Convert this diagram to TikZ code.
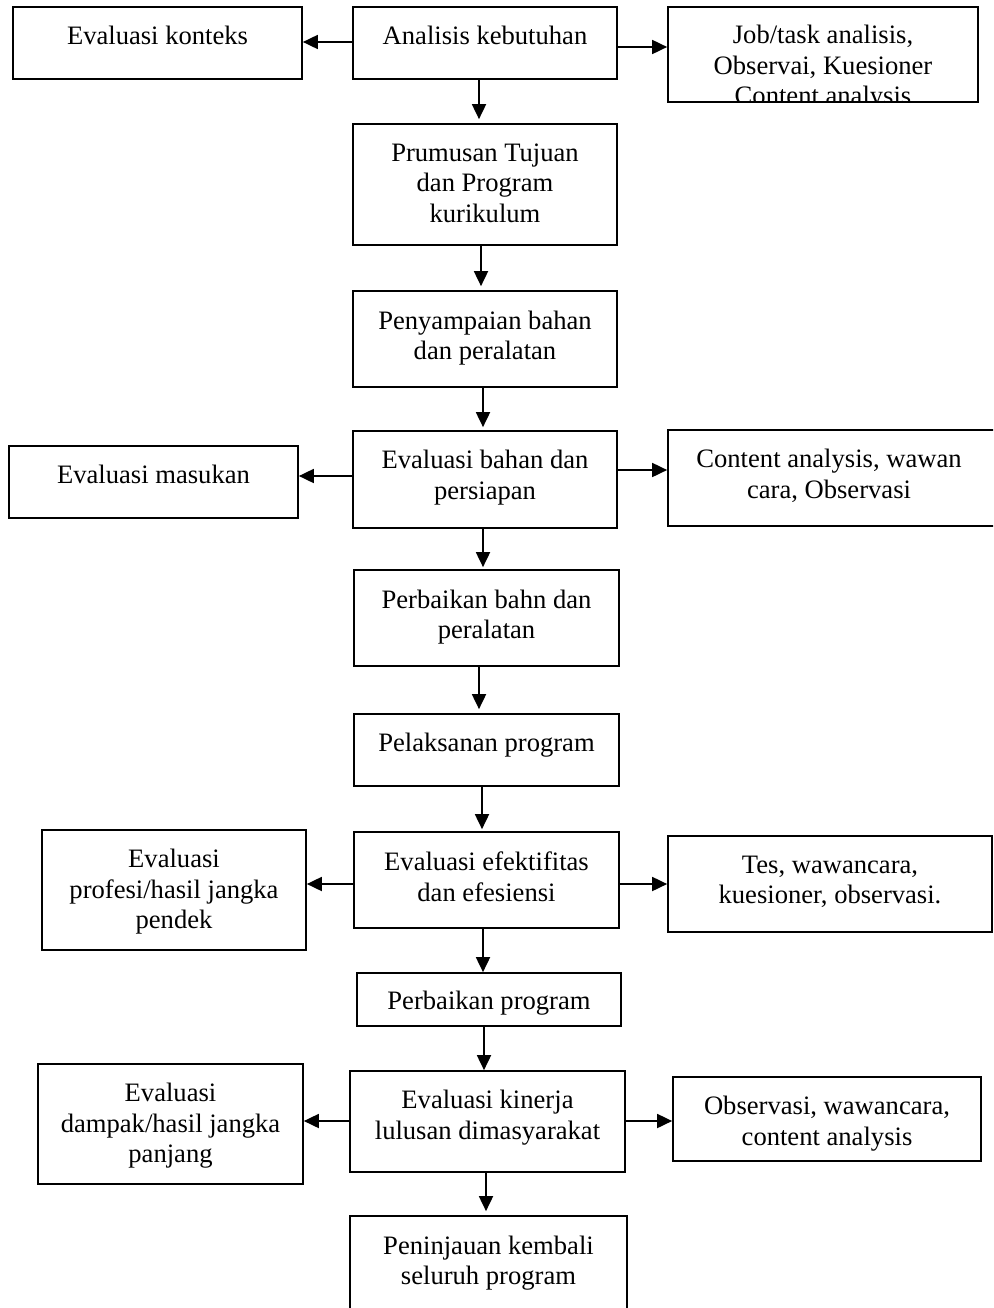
\documentclass[tikz,border=0pt]{standalone}
\usepackage{fontspec}
\setmainfont{Liberation Serif}
\usetikzlibrary{arrows.meta}
\tikzset{
  box/.style={draw, line width=1.7pt, rectangle, inner sep=0pt, fill=none},
  txt/.style={anchor=north, inner sep=0pt, align=center,
    font=\fontsize{26.6}{30.5}\selectfont},
  arr/.style={line width=1.8pt, -{Triangle[length=15pt,width=14pt]}}
}
\begin{document}
\begin{tikzpicture}[x=1pt,y=-1pt]
\clip (0,0) rectangle (993,1308);
\fill[white] (0,0) rectangle (993,1308);
% boxes
\node[box, minimum width=289, minimum height=72] (ctx) at (157.5,43) {};
\node[box, minimum width=264, minimum height=72] (ana) at (485,43) {};
\node[box, minimum width=310, minimum height=95] (job) at (823,54.5) {};
\node[box, minimum width=264, minimum height=121] (pru) at (485,184.5) {};
\node[box, minimum width=264, minimum height=96] (pen) at (485,339) {};
\node[box, minimum width=264, minimum height=97] (evb) at (485,479.5) {};
\node[box, minimum width=289, minimum height=72] (mas) at (153.5,482) {};
\node[box, minimum width=334, minimum height=96] (con) at (835,478) {};
\node[box, minimum width=265, minimum height=96] (pbb) at (486.5,618) {};
\node[box, minimum width=265, minimum height=72] (pel) at (486.5,750) {};
\node[box, minimum width=265, minimum height=96] (efk) at (486.5,880) {};
\node[box, minimum width=264, minimum height=120] (pro) at (174,890) {};
\node[box, minimum width=324, minimum height=96] (tes) at (830,884) {};
\node[box, minimum width=264, minimum height=53] (pbp) at (489,999.5) {};
\node[box, minimum width=275, minimum height=101] (kin) at (487.5,1121.5) {};
\node[box, minimum width=265, minimum height=120] (dam) at (170.5,1124) {};
\node[box, minimum width=308, minimum height=84] (obs) at (827,1119) {};
\node[box, minimum width=277, minimum height=130] (pnj) at (488.5,1281) {};
% texts
\node[txt] (tctx) at ([yshift=-19.5pt]ctx.north) {Evaluasi konteks};
\node[txt] (tana) at ([yshift=-19.5pt]ana.north) {Analisis kebutuhan};
\begin{scope}
\clip ([shift={(1.5pt,-1.5pt)}]job.north west) rectangle ([shift={(-1.5pt,1.5pt)}]job.south east);
\node[txt] (tjob) at ([yshift=-19pt]job.north) {Job/task analisis,\\Observai, Kuesioner\\Content analysis};
\end{scope}
\node[txt] (tpru) at ([yshift=-20.5pt]pru.north) {Prumusan Tujuan\\dan Program\\kurikulum};
\node[txt] (tpen) at ([yshift=-20.5pt]pen.north) {Penyampaian bahan\\dan peralatan};
\node[txt] (tevb) at ([yshift=-20pt]evb.north) {Evaluasi bahan dan\\persiapan};
\node[txt] (tmas) at ([yshift=-19.5pt]mas.north) {Evaluasi masukan};
\node[txt] (tcon) at ([yshift=-20pt]con.north -| 829,0) {Content analysis, wawan\\cara, Observasi};
\node[txt] (tpbb) at ([yshift=-20.5pt]pbb.north) {Perbaikan bahn dan\\peralatan};
\node[txt] (tpel) at ([yshift=-19.5pt]pel.north) {Pelaksanan program};
\node[txt] (tefk) at ([yshift=-20.5pt]efk.north) {Evaluasi efektifitas\\dan efesiensi};
\node[txt] (tpro) at ([yshift=-20pt]pro.north) {Evaluasi\\profesi/hasil jangka\\pendek};
\node[txt] (ttes) at ([yshift=-20.5pt]tes.north) {Tes, wawancara,\\kuesioner, observasi.};
\node[txt] (tpbp) at ([yshift=-19pt]pbp.north) {Perbaikan program};
\node[txt] (tkin) at ([yshift=-20pt]kin.north) {Evaluasi kinerja\\lulusan dimasyarakat};
\node[txt] (tdam) at ([yshift=-20pt]dam.north) {Evaluasi\\dampak/hasil jangka\\panjang};
\node[txt] (tobs) at ([yshift=-20pt]obs.north) {Observasi, wawancara,\\content analysis};
\node[txt] (tpnj) at ([yshift=-20.5pt]pnj.north) {Peninjauan kembali\\seluruh program};
% horizontal connectors
\coordinate (a1) at ([yshift=1pt]ana.west);
\draw[arr] (a1) -- (a1 -| ctx.east);
\coordinate (a2) at ([yshift=-4pt]ana.east);
\draw[arr] (a2) -- (a2 -| job.west);
\coordinate (e1) at ([yshift=3.5pt]evb.west);
\draw[arr] (e1) -- (e1 -| mas.east);
\coordinate (e2) at ([yshift=9.5pt]evb.east);
\draw[arr] (e2) -- (e2 -| con.west);
\coordinate (f1) at ([yshift=-4pt]efk.west);
\draw[arr] (f1) -- (f1 -| pro.east);
\coordinate (f2) at ([yshift=-4pt]efk.east);
\draw[arr] (f2) -- (f2 -| tes.west);
\coordinate (k1) at ([yshift=0.5pt]kin.west);
\draw[arr] (k1) -- (k1 -| dam.east);
\coordinate (k2) at ([yshift=0.5pt]kin.east);
\draw[arr] (k2) -- (k2 -| obs.west);
% vertical connectors
\coordinate (v1) at ([xshift=-6pt]ana.south);
\draw[arr] (v1) -- ([yshift=4pt]v1 |- pru.north);
\coordinate (v2) at ([xshift=-4pt]pru.south);
\draw[arr] (v2) -- ([yshift=4pt]v2 |- pen.north);
\coordinate (v3) at ([xshift=-2pt]pen.south);
\draw[arr] (v3) -- ([yshift=3pt]v3 |- evb.north);
\coordinate (v4) at ([xshift=-2pt]evb.south);
\draw[arr] (v4) -- ([yshift=2pt]v4 |- pbb.north);
\coordinate (v5) at ([xshift=-7.5pt]pbb.south);
\draw[arr] (v5) -- ([yshift=4pt]v5 |- pel.north);
\coordinate (v6) at ([xshift=-4.5pt]pel.south);
\draw[arr] (v6) -- ([yshift=2pt]v6 |- efk.north);
\coordinate (v7) at ([xshift=-3.5pt]efk.south);
\draw[arr] (v7) -- (v7 |- pbp.north);
\coordinate (v8) at ([xshift=-5pt]pbp.south);
\draw[arr] (v8) -- (v8 |- kin.north);
\coordinate (v9) at ([xshift=-1.5pt]kin.south);
\draw[arr] (v9) -- ([yshift=4pt]v9 |- pnj.north);
\end{tikzpicture}
\end{document}
